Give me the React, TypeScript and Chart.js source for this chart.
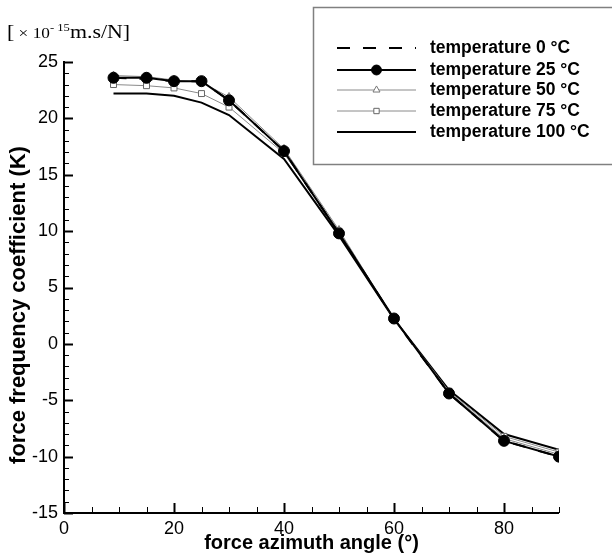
import React, { useEffect, useRef } from "react";
import { Chart, registerables } from "chart.js";

Chart.register(...registerables);

const angles = [9, 15, 20, 25, 30, 40, 50, 60, 70, 80, 90];
const temp0 = [23.6, 23.5, 23.3, 23.3, 21.6, 17.1, 9.8, 2.2, -4.4, -8.6, -10.0];
const temp25 = [23.6, 23.6, 23.3, 23.3, 21.6, 17.1, 9.8, 2.25, -4.4, -8.6, -10.0];
const temp50 = [23.8, 23.7, 23.4, 23.2, 21.9, 17.3, 10.1, 2.2, -4.3, -8.4, -9.8];
const temp75 = [23.0, 22.9, 22.7, 22.2, 21.0, 16.9, 10.0, 2.2, -4.2, -8.2, -9.6];
const temp100 = [22.2, 22.2, 22.0, 21.4, 20.3, 16.4, 9.6, 2.2, -4.1, -8.0, -9.4];

const seriesLabels = [
  "temperature 0 °C",
  "temperature 25 °C",
  "temperature 50 °C",
  "temperature 75 °C",
  "temperature 100 °C",
];
const xTickValues = [0, 20, 40, 60, 80];
const yTickValues = [-15, -10, -5, 0, 5, 10, 15, 20, 25];
const xMinorStep = 5;
const yMinorStep = 1;
const xTitle = "force azimuth angle (°)";
const yTitle = "force frequency coefficient (K)";

const W = 612;
const H = 559;

function drawMarker(ctx: CanvasRenderingContext2D, ds: any, x: number, y: number) {
  const r = ds.pointRadius;
  ctx.save();
  ctx.lineWidth = ds.pointBorderWidth || 1;
  ctx.strokeStyle = ds.pointBorderColor || "#000";
  ctx.fillStyle = ds.pointBackgroundColor || "#fff";
  ctx.beginPath();
  if (ds.pointStyle === "circle") {
    ctx.arc(x, y, r, 0, Math.PI * 2);
  } else if (ds.pointStyle === "triangle") {
    ctx.moveTo(x, y - r);
    ctx.lineTo(x + r * 0.866, y + r / 2);
    ctx.lineTo(x - r * 0.866, y + r / 2);
    ctx.closePath();
  } else if (ds.pointStyle === "rect") {
    const s = r * Math.SQRT1_2;
    ctx.rect(x - s, y - s, 2 * s, 2 * s);
  }
  ctx.fill();
  ctx.stroke();
  ctx.restore();
}

const axesPlugin = {
  id: "customAxes",
  afterDraw(chart: any) {
    const ctx = chart.ctx;
    const { left, right, top, bottom } = chart.chartArea;
    const xs = chart.scales.x;
    const ys = chart.scales.y;
    ctx.save();
    ctx.strokeStyle = "#000";
    ctx.lineWidth = 2;
    ctx.beginPath();
    ctx.moveTo(left, top - 1);
    ctx.lineTo(left, bottom);
    ctx.lineTo(right, bottom);
    ctx.stroke();
    for (let v = xs.min; v <= xs.max + 1e-9; v += xMinorStep) {
      const px = Math.round(xs.getPixelForValue(v)) + 0.5;
      const major = xTickValues.includes(v);
      ctx.lineWidth = major ? 2 : 1;
      ctx.beginPath();
      ctx.moveTo(px, bottom);
      ctx.lineTo(px, bottom - (major ? 10 : 6));
      ctx.stroke();
    }
    for (let v = ys.min; v <= ys.max + 1e-9; v += yMinorStep) {
      const py = Math.round(ys.getPixelForValue(v)) + 0.5;
      const major = yTickValues.includes(v);
      ctx.lineWidth = major ? 2 : 1;
      ctx.beginPath();
      ctx.moveTo(left, py);
      ctx.lineTo(left + (major ? 9 : 5), py);
      ctx.stroke();
    }
    ctx.fillStyle = "#000";
    ctx.textAlign = "center";
    ctx.textBaseline = "middle";
    ctx.font = "bold 20px 'Liberation Sans', Arial, sans-serif";
    ctx.fillText(xTitle, (left + right) / 2, 543);
    ctx.translate(19, 305);
    ctx.rotate(-Math.PI / 2);
    ctx.font = "bold 22px 'Liberation Sans', Arial, sans-serif";
    ctx.fillText(yTitle, 0, 0);
    ctx.restore();
  },
};

const legendPlugin = {
  id: "boxLegend",
  afterDraw(chart: any) {
    const ctx = chart.ctx;
    ctx.save();
    ctx.fillStyle = "#fff";
    ctx.fillRect(313, 7, 320, 157);
    ctx.strokeStyle = "#808080";
    ctx.lineWidth = 1.5;
    ctx.strokeRect(313.5, 7.5, 320, 157);
    const x0 = 337;
    const x1 = 416;
    const xm = (x0 + x1) / 2;
    const rowY = [48, 70, 90, 111, 132];
    chart.data.datasets.forEach((ds: any, i: number) => {
      const y = rowY[i];
      ctx.save();
      ctx.strokeStyle = ds.borderColor;
      ctx.lineWidth = ds.borderWidth;
      ctx.setLineDash(ds.borderDash || []);
      ctx.beginPath();
      ctx.moveTo(x0, y);
      ctx.lineTo(x1, y);
      ctx.stroke();
      ctx.setLineDash([]);
      if (ds.pointRadius > 0) drawMarker(ctx, { ...ds, pointRadius: ds.pointRadius * 0.9 }, xm, y);
      ctx.restore();
      ctx.save();
      ctx.fillStyle = "#000";
      ctx.font = "bold 17.5px 'Liberation Sans', Arial, sans-serif";
      ctx.textAlign = "left";
      ctx.textBaseline = "middle";
      ctx.fillText(ds.label, 430, y);
      ctx.restore();
    });
    ctx.restore();
  },
};

export default function App() {
  const canvasRef = useRef<HTMLCanvasElement | null>(null);

  useEffect(() => {
    if (!canvasRef.current) return;
    const mk = (vals: number[]) => angles.map((a, i) => ({ x: a, y: vals[i] }));
    const chart = new Chart(canvasRef.current, {
      type: "line",
      data: {
        datasets: [
          {
            label: seriesLabels[0],
            data: mk(temp0),
            borderColor: "#000",
            borderWidth: 2,
            borderDash: [13, 13],
            pointRadius: 0,
            fill: false,
          },
          {
            label: seriesLabels[1],
            data: mk(temp25),
            borderColor: "#000",
            borderWidth: 2,
            pointStyle: "circle",
            pointRadius: 5.5,
            pointBorderWidth: 1,
            pointBackgroundColor: "#000",
            pointBorderColor: "#000",
            fill: false,
          },
          {
            label: seriesLabels[2],
            data: mk(temp50),
            borderColor: "#8a8a8a",
            borderWidth: 1,
            pointStyle: "triangle",
            pointRadius: 4.5,
            pointBorderWidth: 1,
            pointBackgroundColor: "#fff",
            pointBorderColor: "#777",
            fill: false,
          },
          {
            label: seriesLabels[3],
            data: mk(temp75),
            borderColor: "#8a8a8a",
            borderWidth: 1,
            pointStyle: "rect",
            pointRadius: 4.2,
            pointBorderWidth: 1,
            pointBackgroundColor: "#fff",
            pointBorderColor: "#666",
            fill: false,
          },
          {
            label: seriesLabels[4],
            data: mk(temp100),
            borderColor: "#000",
            borderWidth: 2,
            pointRadius: 0,
            fill: false,
          },
        ],
      },
      options: {
        responsive: false,
        animation: false,
        devicePixelRatio: 1,
        layout: { padding: { top: 62, right: 53, left: 0, bottom: 0 } },
        plugins: {
          legend: { display: false },
          tooltip: { enabled: false },
        },
        elements: { line: { tension: 0 } },
        scales: {
          x: {
            type: "linear",
            min: 0,
            max: 90,
            afterBuildTicks: (s: any) => {
              s.ticks = xTickValues.map((v) => ({ value: v }));
            },
            afterFit: (s: any) => {
              s.height = 46;
            },
            grid: { display: false, drawTicks: false },
            border: { display: false },
            ticks: {
              color: "#000",
              padding: 5,
              maxRotation: 0,
              font: { family: "'Liberation Sans', Arial, sans-serif", size: 18 },
            },
            title: { display: false },
          },
          y: {
            type: "linear",
            min: -15,
            max: 25,
            afterBuildTicks: (s: any) => {
              s.ticks = yTickValues.map((v) => ({ value: v }));
            },
            afterFit: (s: any) => {
              s.width = 64;
            },
            grid: { display: false, drawTicks: false },
            border: { display: false },
            ticks: {
              color: "#000",
              padding: 6,
              font: { family: "'Liberation Sans', Arial, sans-serif", size: 18 },
            },
            title: { display: false },
          },
        },
      },
      plugins: [axesPlugin, legendPlugin],
    } as any);
    return () => chart.destroy();
  }, []);

  return (
    <div style={{ position: "fixed", left: 0, top: 0, width: W, height: H, background: "#fff" }}>
      <canvas ref={canvasRef} width={W} height={H} style={{ width: W, height: H, display: "block" }} />
      <div
        style={{
          position: "absolute",
          left: 7,
          top: 16,
          fontFamily: "'Liberation Serif', 'Times New Roman', serif",
          fontSize: 19,
          color: "#000",
          whiteSpace: "nowrap",
          lineHeight: "22px",
          transform: "scaleX(1.15)",
          transformOrigin: "left top",
        }}
      >
        [<span style={{ fontSize: 15 }}> × 10</span>
        <sup style={{ fontSize: 11, verticalAlign: "7px" }}>- 15</sup>m.s/N]
      </div>
    </div>
  );
}
